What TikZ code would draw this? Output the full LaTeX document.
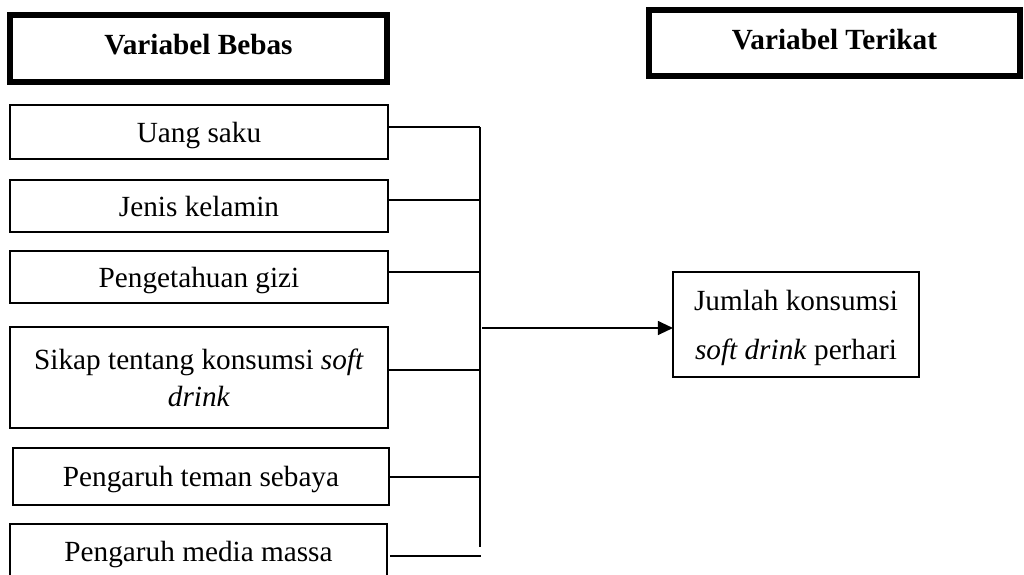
\documentclass[tikz,border=0pt]{standalone}
\usepackage{fontspec}
\setmainfont{Liberation Serif}
\usetikzlibrary{positioning, arrows.meta, calc}

\begin{document}
\begin{tikzpicture}[
    x=0.025cm, y=-0.025cm,
    % Thick header boxes
    headblock/.style={
        draw=black,
        text=black,
        align=center,
        font=\fontsize{20.8}{26}\selectfont\bfseries,
        line width=4.2pt,
        inner sep=0pt,
        outer sep=0pt,
        text depth=0.2cm,
        rectangle
    },
    % Plain variable boxes
    block/.style={
        draw=black,
        text=black,
        align=center,
        font=\fontsize{20.8}{26}\selectfont,
        line width=1.1pt,
        inner sep=0pt,
        outer sep=0pt,
        text depth=0pt,
        rectangle,
        minimum width=9.45cm,
        minimum height=1.35cm
    },
    % Bus lines
    link/.style={
        draw=black,
        line width=1.2pt
    },
    % Arrow with solid triangle tip
    arrow/.style={
        -{Triangle[length=3.8mm, width=3.5mm]},
        draw=black,
        line width=1.2pt
    }
]

\clip (0,0) rectangle (1024,574);

% --- HEADERS ---
\node[headblock, minimum width=9.425cm, minimum height=1.675cm] (bebas) at (198.5,48.5) {Variabel Bebas};
\node[headblock, minimum width=9.275cm, minimum height=1.65cm] (terikat) at (834.5,43) {Variabel Terikat};

% --- INDEPENDENT VARIABLES ---
\node[block] (uang) at (199,132) {Uang saku};
\node[block, minimum height=1.3cm] (jenis) at (199,206) {Jenis kelamin};
\node[block, minimum height=1.3cm] (gizi) at (199,277) {Pengetahuan gizi};
\node[block, minimum height=2.525cm] (sikap) at (199,377.5) {
    Sikap tentang konsumsi \textit{soft}\\
    \textit{drink}
};
\node[block, minimum width=9.4cm, minimum height=1.425cm] (teman) at (201,476.5) {Pengaruh teman sebaya};
\node[block, minimum width=9.425cm] (media) at (198.5,551) {Pengaruh media massa};

% --- DEPENDENT VARIABLE ---
\node[block, minimum width=6.15cm, minimum height=2.625cm] (jumlah) at (796,324.5) {
    Jumlah konsumsi\\[9pt]
    \textit{soft drink} perhari
};

% --- BUS: one vertical line collecting the boxes ---
\coordinate (bus_top) at (480,127);
\coordinate (bus_bottom) at (480,547);
\coordinate (j_bus) at (481,200);
\coordinate (g_bus) at (481,272);
\coordinate (s_bus) at (481,370);
\coordinate (t_bus) at (481,477);
\coordinate (m_bus) at (481,556);
\coordinate (out_bus) at (482,328);

\draw[link] (bus_top) -- (bus_bottom);
\draw[link] (uang.east |- bus_top) -- (bus_top);
\draw[link] (jenis.east |- j_bus) -- (j_bus);
\draw[link] (gizi.east |- g_bus) -- (g_bus);
\draw[link] (sikap.east |- s_bus) -- (s_bus);
\draw[link] (teman.east |- t_bus) -- (t_bus);
\draw[link] ([xshift=2pt]media.east |- m_bus) -- (m_bus);

% --- OUTPUT ARROW ---
\draw[arrow] (out_bus) -- (jumlah.west |- out_bus);

\end{tikzpicture}
\end{document}
